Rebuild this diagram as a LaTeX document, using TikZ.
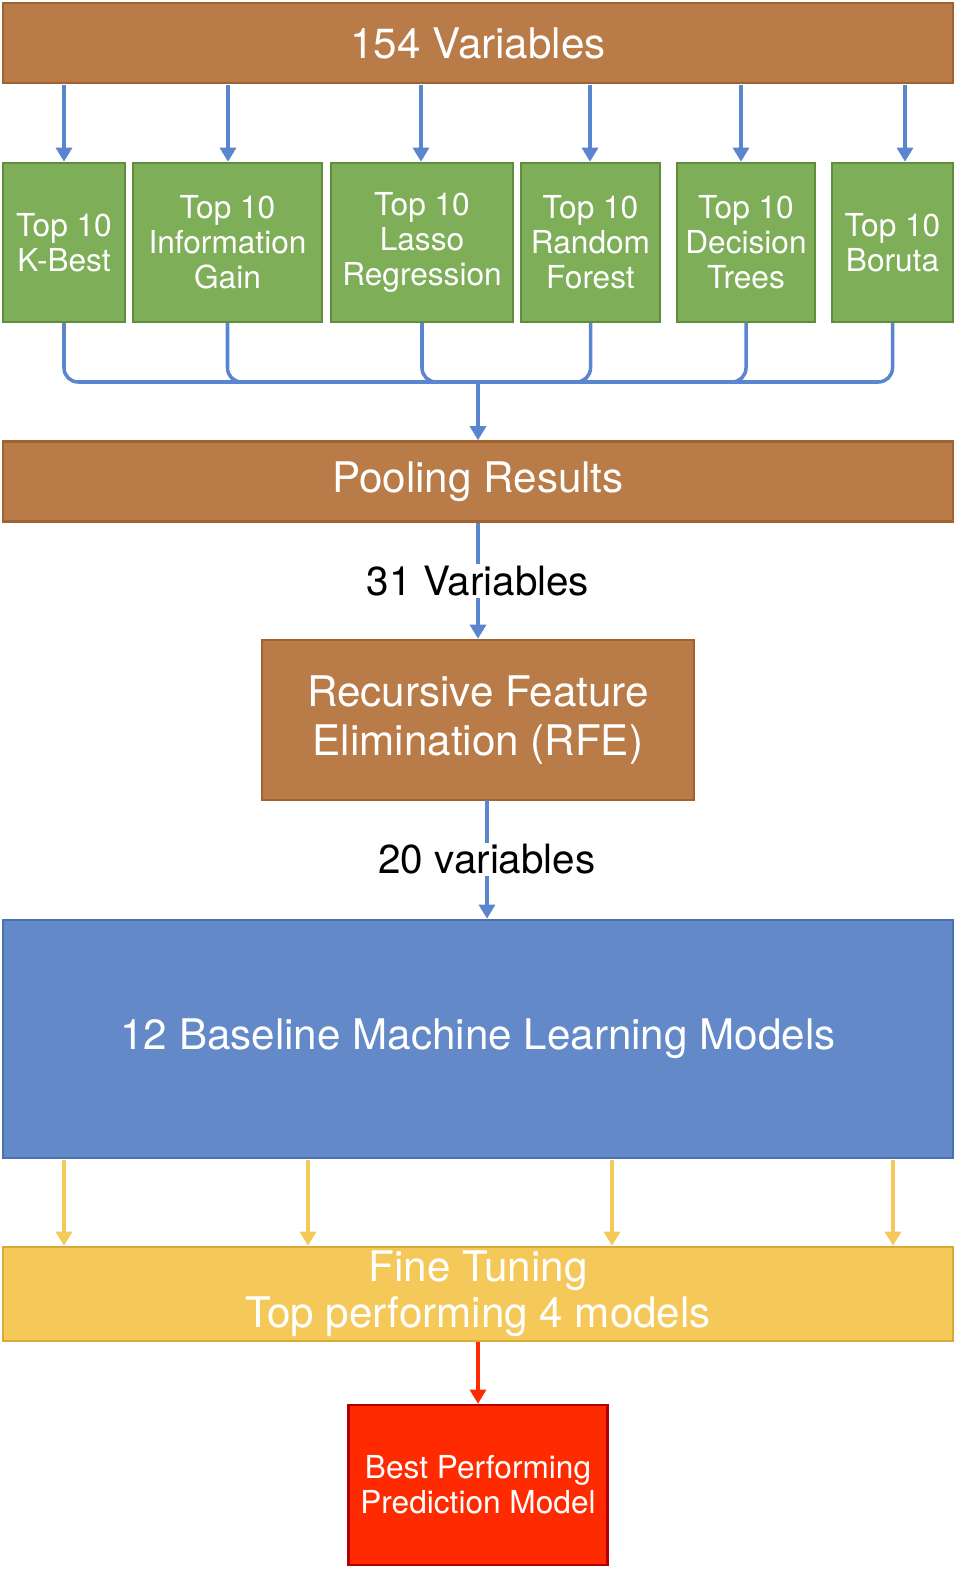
\documentclass[tikz,border=0pt]{standalone}
\usepackage{fontspec}
\setmainfont{TeX Gyre Heros}
\usetikzlibrary{arrows.meta, positioning}
\definecolor{brownbox}{HTML}{B97B47}
\definecolor{brownline}{HTML}{A0622F}
\definecolor{greenbox}{HTML}{7FAE58}
\definecolor{greenline}{HTML}{5E8E3C}
\definecolor{bluebox}{HTML}{6389C8}
\definecolor{blueline}{HTML}{4A70B0}
\definecolor{arrowblue}{HTML}{5B86CF}
\definecolor{yellowbox}{HTML}{F5C85A}
\definecolor{yellowline}{HTML}{D9A93A}
\definecolor{redbox}{HTML}{FF2A00}
\tikzset{
  box/.style={draw, line width=1.4pt, text=white, align=center, inner sep=0pt},
  brown/.style={box, fill=brownbox, draw=brownline},
  green/.style={box, fill=greenbox, draw=greenline, font=\fontsize{18}{20}\selectfont, minimum height=3.18cm},
  arr/.style={-{Triangle[length=8pt, width=9pt]}, line width=2pt, draw=arrowblue},
  yarr/.style={-{Triangle[length=8pt, width=9pt]}, line width=2pt, draw=yellowbox},
}
\begin{document}
\begin{tikzpicture}
        \useasboundingbox (0,0) rectangle (19.36,-31.76);
        % Top
        \node[brown, minimum width=19cm, minimum height=1.6cm, font=\fontsize{24}{28}\selectfont] (vars) at (9.56,-0.86) {154 Variables};
        % Selection methods
        \node[green, minimum width=2.44cm] (kbest) at (1.28,-4.85) {Top 10\\K-Best};
        \node[green, minimum width=3.78cm] (info) at (4.55,-4.85) {Top 10\\Information\\Gain};
        \node[green, minimum width=3.64cm] (lasso) at (8.44,-4.85) {Top 10\\Lasso\\Regression};
        \node[green, minimum width=2.78cm] (rf) at (11.81,-4.85) {Top 10\\Random\\Forest};
        \node[green, minimum width=2.76cm] (dt) at (14.92,-4.85) {Top 10\\Decision\\Trees};
        \node[green, minimum width=2.42cm] (boruta) at (17.85,-4.85) {Top 10\\Boruta};
        \foreach \n/\x in {kbest/1.28, info/4.56, lasso/8.42, rf/11.8, dt/14.82, boruta/18.1}
          \draw[arr] (\x,-1.7) -- (\n.north -| {(\x,0)});
        % Pooling
        \coordinate (join) at (9.56,-7.64);
        \foreach \n in {kbest, info, lasso, rf, dt, boruta}
          \draw[line width=2pt, arrowblue, rounded corners=8pt] (\n.south) |- (join);
        \node[brown, minimum width=19cm, minimum height=1.6cm, font=\fontsize{24}{28}\selectfont] (pool) at (9.56,-9.63) {Pooling Results};
        \draw[arr] (join) -- (pool.north);
        % RFE
        \node[brown, minimum width=8.64cm, minimum height=3.2cm, font=\fontsize{24}{28}\selectfont] (rfe) at (9.56,-14.4) {Recursive Feature\\Elimination (RFE)};
        \draw[arr] (pool.south) -- (rfe.north) node[midway, fill=white, inner sep=1pt, font=\fontsize{23}{26}\selectfont] {31 Variables};
        % Models
        \node[box, fill=bluebox, draw=blueline, minimum width=19cm, minimum height=4.76cm, font=\fontsize{24}{28}\selectfont] (models) at (9.56,-20.78) {12 Baseline Machine Learning Models};
        \draw[arr] (9.74,-16) -- (models.north -| {(9.74,0)}) node[midway, fill=white, inner sep=1pt, font=\fontsize{23}{26}\selectfont] {20 variables};
        % Fine tuning
        \node[box, fill=yellowbox, draw=yellowline, minimum width=19cm, minimum height=1.88cm, font=\fontsize{24}{26}\selectfont] (tune) at (9.56,-25.88) {Fine Tuning\\Top performing 4 models};
        \foreach \x in {1.28, 6.16, 12.24, 17.86}
          \draw[yarr] (\x,-23.2) -- (tune.north -| {(\x,0)});
        % Best model
        \node[box, fill=redbox, draw=red!70!black, minimum width=5.18cm, minimum height=3.2cm, font=\fontsize{18}{20}\selectfont] (best) at (9.56,-29.7) {Best Performing\\Prediction Model};
        \draw[-{Triangle[length=8pt, width=9pt]}, line width=2pt, redbox] (tune.south) -- (best.north);
\end{tikzpicture}
\end{document}
